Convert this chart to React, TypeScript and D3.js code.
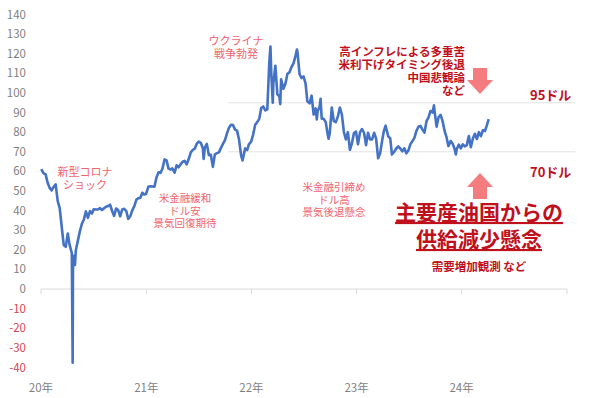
import React from "react";
import * as d3 from "d3";

// WTI crude price (USD/bbl), approx. weekly closes with key daily extremes
const dates2020 = ["2020-01-02","2020-01-10","2020-01-17","2020-01-24","2020-01-31","2020-02-07","2020-02-14","2020-02-21","2020-02-28","2020-03-06","2020-03-13","2020-03-20","2020-03-27","2020-04-03","2020-04-09","2020-04-17","2020-04-20","2020-04-21","2020-04-24","2020-04-28","2020-05-01","2020-05-08","2020-05-15","2020-05-22","2020-05-29","2020-06-05","2020-06-12","2020-06-19","2020-06-26","2020-07-02","2020-07-10","2020-07-17","2020-07-24","2020-07-31","2020-08-07","2020-08-14","2020-08-21","2020-08-28","2020-09-04","2020-09-11","2020-09-18","2020-09-25","2020-10-02","2020-10-09","2020-10-16","2020-10-23","2020-10-30","2020-11-06","2020-11-13","2020-11-20","2020-11-27","2020-12-04","2020-12-11","2020-12-18","2020-12-24","2020-12-31"];
const values2020 = [61.2,59.0,58.5,54.2,51.6,50.3,52.1,53.4,44.8,41.3,31.7,22.4,21.5,28.3,22.8,18.3,-37.6,10.0,16.9,12.3,19.8,24.7,29.4,33.3,35.5,39.6,36.3,39.8,38.5,40.7,40.6,40.6,41.3,40.3,41.2,42.0,42.3,43.0,39.8,37.3,41.1,40.3,37.1,40.6,40.9,39.9,35.8,37.1,40.1,42.2,45.5,46.3,46.6,49.1,48.2,48.5];

const dates2021 = ["2021-01-08","2021-01-15","2021-01-22","2021-01-29","2021-02-05","2021-02-12","2021-02-19","2021-02-26","2021-03-05","2021-03-12","2021-03-19","2021-03-26","2021-04-01","2021-04-09","2021-04-16","2021-04-23","2021-04-30","2021-05-07","2021-05-14","2021-05-21","2021-05-28","2021-06-04","2021-06-11","2021-06-18","2021-06-25","2021-07-02","2021-07-09","2021-07-16","2021-07-19","2021-07-23","2021-07-30","2021-08-06","2021-08-13","2021-08-20","2021-08-27","2021-09-03","2021-09-10","2021-09-17","2021-09-24","2021-10-01","2021-10-08","2021-10-15","2021-10-22","2021-10-29","2021-11-05","2021-11-12","2021-11-19","2021-11-26","2021-12-01","2021-12-10","2021-12-17","2021-12-23","2021-12-31"];
const values2021 = [52.2,52.4,52.3,52.2,56.9,59.5,59.2,61.5,66.1,65.6,61.4,61.0,61.5,59.3,63.1,62.1,63.6,64.9,65.4,63.6,66.3,69.6,70.9,71.6,74.1,75.2,74.6,71.8,66.4,72.1,74.0,68.3,68.4,62.3,68.7,69.3,69.7,72.0,74.0,75.9,79.4,82.3,83.8,83.6,81.3,80.8,76.1,68.2,65.6,71.7,70.9,73.8,75.2];

const dates2022 = ["2022-01-07","2022-01-14","2022-01-21","2022-01-28","2022-02-04","2022-02-11","2022-02-18","2022-02-25","2022-03-04","2022-03-08","2022-03-11","2022-03-16","2022-03-18","2022-03-25","2022-04-01","2022-04-08","2022-04-11","2022-04-14","2022-04-22","2022-04-29","2022-05-06","2022-05-13","2022-05-20","2022-05-27","2022-06-03","2022-06-08","2022-06-10","2022-06-17","2022-06-24","2022-07-01","2022-07-08","2022-07-14","2022-07-22","2022-07-29","2022-08-05","2022-08-12","2022-08-16","2022-08-19","2022-08-26","2022-08-29","2022-09-02","2022-09-09","2022-09-16","2022-09-23","2022-09-26","2022-09-30","2022-10-07","2022-10-14","2022-10-21","2022-10-28","2022-11-04","2022-11-11","2022-11-18","2022-11-25","2022-12-02","2022-12-09","2022-12-16","2022-12-23","2022-12-30"];
const values2022 = [78.9,83.8,85.1,86.8,92.3,93.1,91.1,91.6,115.7,123.7,109.3,95.0,104.7,113.9,99.3,98.3,94.3,107.0,102.1,104.7,109.8,110.5,113.2,115.1,118.9,122.1,120.7,109.6,107.6,108.4,104.8,95.8,94.7,98.6,89.0,92.1,86.5,90.8,93.1,97.0,86.9,86.8,85.1,78.7,76.7,79.5,92.6,85.6,85.1,87.9,92.6,89.0,80.1,76.3,80.0,71.0,74.3,79.6,80.3];

const dates2023 = ["2023-01-06","2023-01-13","2023-01-20","2023-01-27","2023-02-03","2023-02-10","2023-02-17","2023-02-24","2023-03-03","2023-03-10","2023-03-17","2023-03-24","2023-03-31","2023-04-06","2023-04-12","2023-04-21","2023-04-28","2023-05-04","2023-05-12","2023-05-19","2023-05-26","2023-06-02","2023-06-09","2023-06-16","2023-06-23","2023-06-30","2023-07-07","2023-07-14","2023-07-21","2023-07-28","2023-08-04","2023-08-11","2023-08-18","2023-08-25","2023-09-01","2023-09-08","2023-09-15","2023-09-22","2023-09-27","2023-09-29","2023-10-06","2023-10-13","2023-10-20","2023-10-27","2023-11-03","2023-11-10","2023-11-16","2023-11-24","2023-12-01","2023-12-08","2023-12-12","2023-12-15","2023-12-22","2023-12-29"];
const values2023 = [73.8,79.9,81.6,79.7,73.4,79.7,76.3,76.3,79.7,76.7,66.7,69.3,75.7,80.7,83.3,77.9,76.8,68.6,70.0,71.7,72.7,71.7,70.2,71.8,69.2,70.6,73.9,75.4,77.1,80.6,82.8,83.2,81.3,79.8,85.6,87.5,90.8,90.0,93.7,90.8,82.8,87.7,88.8,85.5,80.5,77.2,72.9,75.5,74.1,71.2,68.6,71.4,73.6,71.7];

const dates2024 = ["2024-01-05","2024-01-12","2024-01-19","2024-01-26","2024-02-02","2024-02-09","2024-02-16","2024-02-23","2024-03-01","2024-03-08","2024-03-15","2024-03-22","2024-03-28","2024-04-04"];
const values2024 = [73.8,72.7,73.4,78.0,72.3,76.8,79.2,76.5,80.0,78.0,81.0,80.6,83.2,86.6];

const yTicks = [140,130,120,110,100,90,80,70,60,50,40,30,20,10,0,-10,-20,-30,-40];
const xYears = ["20年","21年","22年","23年","24年"];
const refLevels = [95, 70];

const allDates = [...dates2020, ...dates2021, ...dates2022, ...dates2023, ...dates2024];
const allValues = [...values2020, ...values2021, ...values2022, ...values2023, ...values2024];
const series = allDates.map((d, i) => ({ date: new Date(d + "T00:00:00"), value: allValues[i] }));

const FONT = "'Noto Sans CJK JP', 'Noto Sans', sans-serif";
const TIGHT = "'Liberation Sans', 'Noto Sans CJK JP', sans-serif";
const PINK = "#F0646E";
const DARK = "#C0101C";
const ARROW = "#F47C7E";

export default function App() {
  const x = d3.scaleTime()
    .domain([new Date("2020-01-01T00:00:00"), new Date("2025-01-01T00:00:00")])
    .range([41, 567]);
  const y = d3.scaleLinear().domain([-40, 140]).range([367.5, 14.5]);
  const line = d3.line<{ date: Date; value: number }>()
    .x((d) => x(d.date))
    .y((d) => y(d.value));
  const yearTicks = xYears.map((_, i) => new Date(2020 + i, 0, 1));
  const allYearTicks = [...yearTicks, new Date(2025, 0, 1)];

  return (
    <svg width={600} height={398} style={{ position: "fixed", left: 0, top: 0, background: "#fff" }} fontFamily={FONT}>
      <rect width={600} height={398} fill="#fff" />
      {refLevels.map((v) => (
        <line key={v} x1={228} x2={575} y1={y(v)} y2={y(v)} stroke="#e4e4e4" strokeWidth={1} />
      ))}
      <line x1={x(allYearTicks[0])} x2={x(allYearTicks[5])} y1={y(0)} y2={y(0)} stroke="#d9d9d9" strokeWidth={1} />
      {allYearTicks.map((d, i) => (
        <line key={i} x1={x(d)} x2={x(d)} y1={y(0)} y2={y(0) + 5} stroke="#d9d9d9" strokeWidth={1} />
      ))}
      {yTicks.map((t) => (
        <text key={t} x={26} y={y(t) + 4} textAnchor="end" fontSize={11.5} fill={t < 0 ? "#D9444E" : "#7f7f7f"}>{t}</text>
      ))}
      {xYears.map((lab, i) => (
        <text key={lab} x={x(yearTicks[i])} y={392} textAnchor="middle" fontSize={11.5} fill="#7f7f7f">{lab}</text>
      ))}
      <path d={line(series) || ""} fill="none" stroke="#4472C4" strokeWidth={2.6} strokeLinejoin="round" />

      {/* pink annotations */}
      <g fill={PINK} fontSize={11} textAnchor="middle" fontFamily={TIGHT}>
        <text x={85} y={176}>新型コロナ</text>
        <text x={85} y={189}>ショック</text>
        <text x={236} y={45}>ウクライナ</text>
        <text x={236} y={57.5}>戦争勃発</text>
      </g>
      <g fill={PINK} fontSize={10.5} textAnchor="middle" fontFamily={TIGHT}>
        <text x={185} y={202}>米金融緩和</text>
        <text x={185} y={214.5}>ドル安</text>
        <text x={185} y={227}>景気回復期待</text>
        <text x={334} y={191}>米金融引締め</text>
        <text x={334} y={203.5}>ドル高</text>
        <text x={334} y={216}>景気後退懸念</text>
      </g>

      {/* dark red annotations */}
      <g fill={DARK} fontSize={11.5} fontWeight="bold" textAnchor="end" fontFamily={TIGHT}>
        <text x={465} y={56}>高インフレによる多重苦</text>
        <text x={465} y={69}>米利下げタイミング後退</text>
        <text x={465} y={82}>中国悲観論</text>
        <text x={465} y={95}>など</text>
      </g>
      <g fill={DARK} fontSize={13} fontWeight="bold">
        <text x={530} y={100}>95ドル</text>
        <text x={530} y={177}>70ドル</text>
      </g>
      <g fill={DARK} fontSize={21} fontWeight="bold" textAnchor="middle" fontFamily={TIGHT}>
        <text x={479} y={220} textDecoration="underline">主要産油国からの</text>
        <text x={479} y={247} textDecoration="underline">供給減少懸念</text>
      </g>
      <text x={479} y={271} fill={DARK} fontSize={11.5} fontWeight="bold" textAnchor="middle">需要増加観測 など</text>

      {/* arrows */}
      <path d="M473,68 L487,68 L487,80 L493,80 L480,94 L467,80 L473,80 Z" fill={ARROW} />
      <path d="M480,173 L493,187 L487,187 L487,199 L473,199 L473,187 L467,187 Z" fill={ARROW} />
    </svg>
  );
}
